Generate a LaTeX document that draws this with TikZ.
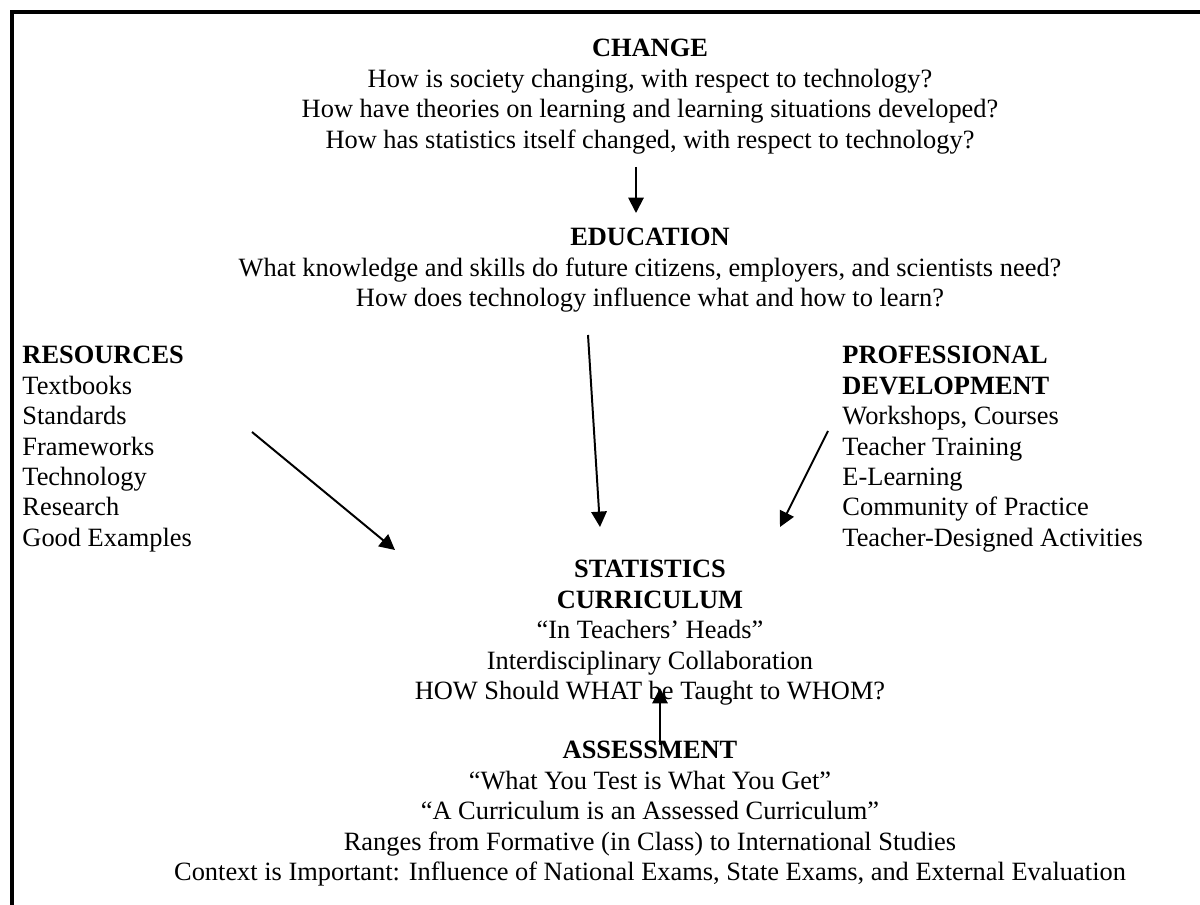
\documentclass[tikz,border=0pt]{standalone}
\usepackage{fontspec}
\setmainfont{Liberation Serif}
\usetikzlibrary{arrows.meta}

\begin{document}
\begin{tikzpicture}[x=0.4545pt, y=-0.4545pt,
  block/.style={inner sep=0pt, font=\fontsize{12}{13.8}\selectfont},
  mid block/.style={block, align=center, anchor=north},
  side block/.style={block, align=left, anchor=north west},
  link/.style={-{Triangle[length=7pt,width=7pt]}, line width=0.9pt}]

  \useasboundingbox (0,0) rectangle (1200,905);

  % open frame: top and left edges only
  \draw[line width=1.8pt] (1200,12) -- (12,12) -- (12,905);

  \node[mid block] (change) at (650,39) {\textbf{CHANGE}\\
    How is society changing, with respect to technology?\\
    How have theories on learning and learning situations developed?\\
    How has statistics itself changed, with respect to technology?};
  \node[mid block] (education) at (650,228) {\textbf{EDUCATION}\\
    What knowledge and skills do future citizens, employers, and scientists need?\\
    How does technology influence what and how to learn?};
  \node[side block] (resources) at (22,346) {\textbf{RESOURCES}\\
    Textbooks\\ Standards\\ Frameworks\\ Technology\\ Research\\ Good Examples};
  \node[side block] (profdev) at (842,346) {\textbf{PROFESSIONAL}\\
    \textbf{DEVELOPMENT}\\ Workshops, Courses\\ Teacher Training\\ E-Learning\\
    Community of Practice\\ Teacher-Designed Activities};
  \node[mid block] (curriculum) at (650,560) {\textbf{STATISTICS}\\
    \textbf{CURRICULUM}\\
    “In Teachers’ Heads”\\
    Interdisciplinary Collaboration\\
    HOW Should WHAT be Taught to WHOM?};
  \node[mid block] (assessment) at (650,741) {\textbf{ASSESSMENT}\\
    “What You Test is What You Get”\\
    “A Curriculum is an Assessed Curriculum”\\
    Ranges from Formative (in Class) to International Studies\\
    Context is Important: Influence of National Exams, State Exams, and External Evaluation};

  % loose arrow ends
  \coordinate (change out) at (636,167);
  \coordinate (education in) at (636,213);
  \coordinate (education out) at (588,335);
  \coordinate (curriculum top) at (600,527);
  \coordinate (resources out) at (252,432);
  \coordinate (curriculum left) at (395,550);
  \coordinate (profdev out) at (828,431);
  \coordinate (curriculum right) at (780,527);
  \coordinate (assessment out) at (660,745);
  \coordinate (curriculum bottom) at (660,688);

  \path (change out) edge[link] (education in);
  \path (education out) edge[link] (curriculum top);
  \path (resources out) edge[link] (curriculum left);
  \path (profdev out) edge[link] (curriculum right);
  \path (assessment out) edge[link] (curriculum bottom);

\end{tikzpicture}
\end{document}
